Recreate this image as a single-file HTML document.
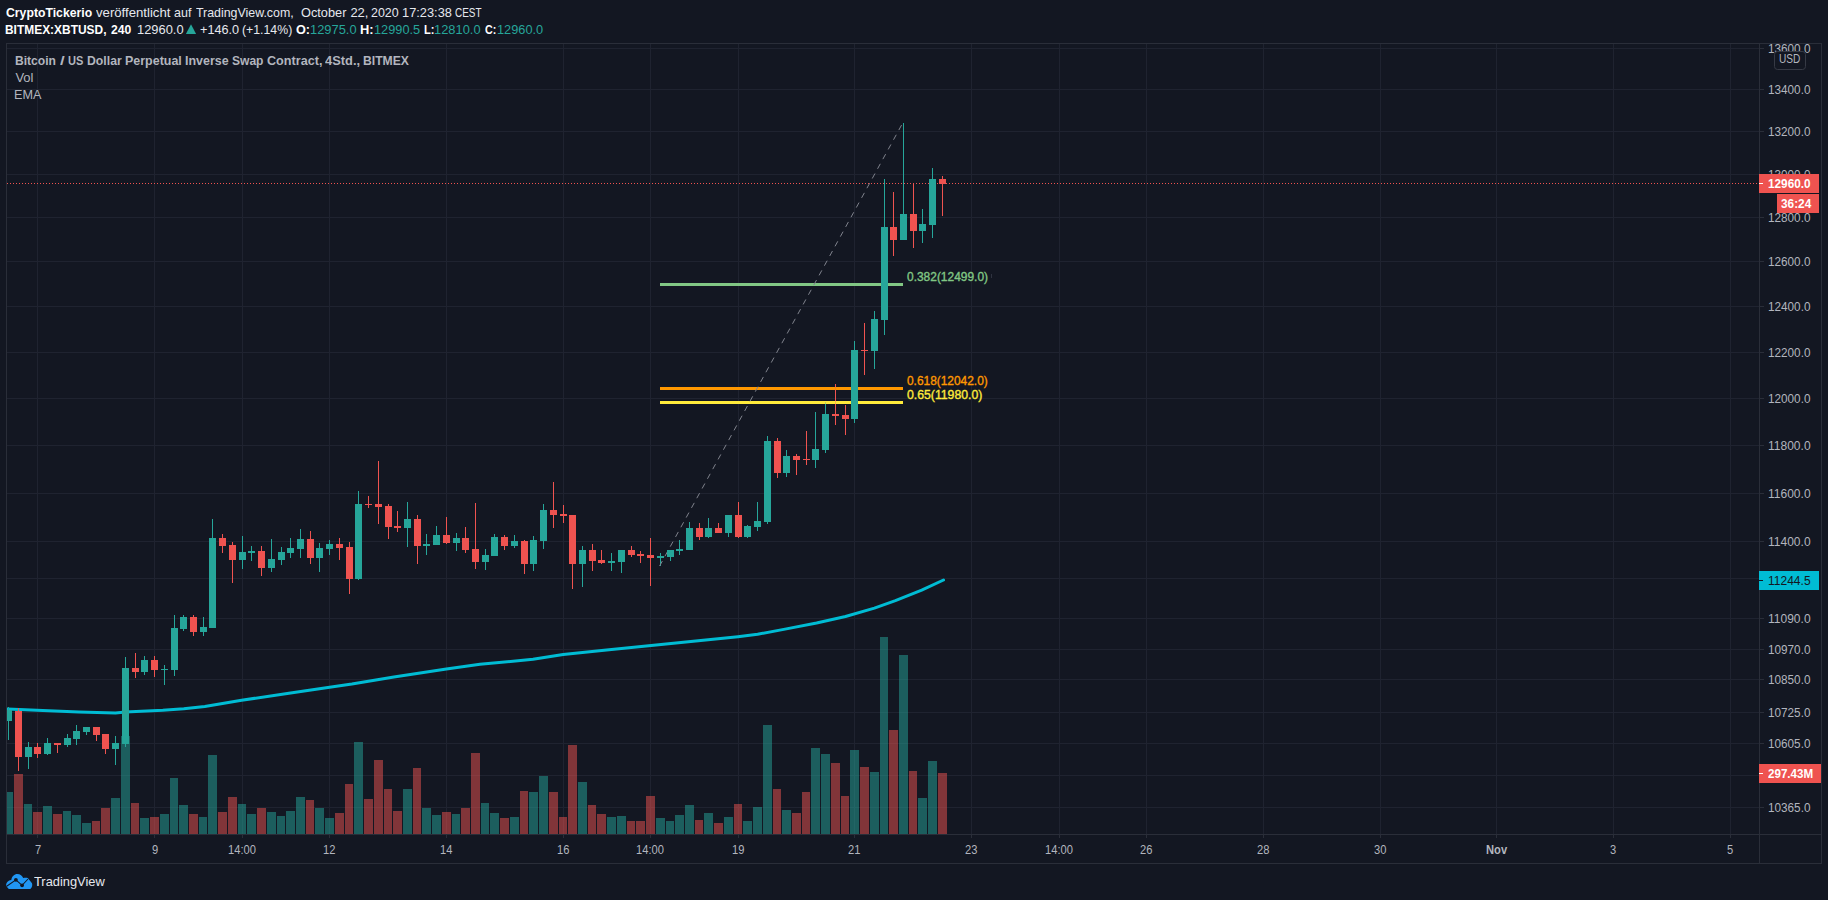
<!DOCTYPE html>
<html lang="de"><head><meta charset="utf-8"><title>BITMEX:XBTUSD</title>
<style>
html,body{margin:0;padding:0;background:#131722;}
body{width:1828px;height:900px;position:relative;overflow:hidden;font-family:"Liberation Sans",sans-serif;}
.t{position:absolute;white-space:pre;line-height:1;transform-origin:0 50%;}
.b{font-weight:bold;}
</style></head><body>
<svg width="1828" height="900" viewBox="0 0 1828 900" style="position:absolute;left:0;top:0">
<rect width="1828" height="900" fill="#131722"/>
<g fill="#1f2330" shape-rendering="crispEdges">
<rect x="7" y="48" width="1752" height="1"/>
<rect x="7" y="89" width="1752" height="1"/>
<rect x="7" y="131" width="1752" height="1"/>
<rect x="7" y="174" width="1752" height="1"/>
<rect x="7" y="217" width="1752" height="1"/>
<rect x="7" y="261" width="1752" height="1"/>
<rect x="7" y="306" width="1752" height="1"/>
<rect x="7" y="352" width="1752" height="1"/>
<rect x="7" y="398" width="1752" height="1"/>
<rect x="7" y="445" width="1752" height="1"/>
<rect x="7" y="493" width="1752" height="1"/>
<rect x="7" y="541" width="1752" height="1"/>
<rect x="7" y="578" width="1752" height="1"/>
<rect x="7" y="618" width="1752" height="1"/>
<rect x="7" y="649" width="1752" height="1"/>
<rect x="7" y="679" width="1752" height="1"/>
<rect x="7" y="712" width="1752" height="1"/>
<rect x="7" y="743" width="1752" height="1"/>
<rect x="7" y="775" width="1752" height="1"/>
<rect x="7" y="807" width="1752" height="1"/>
<rect x="37" y="44" width="1" height="790"/>
<rect x="154" y="44" width="1" height="790"/>
<rect x="242" y="44" width="1" height="790"/>
<rect x="329" y="44" width="1" height="790"/>
<rect x="446" y="44" width="1" height="790"/>
<rect x="563" y="44" width="1" height="790"/>
<rect x="650" y="44" width="1" height="790"/>
<rect x="738" y="44" width="1" height="790"/>
<rect x="854" y="44" width="1" height="790"/>
<rect x="971" y="44" width="1" height="790"/>
<rect x="1059" y="44" width="1" height="790"/>
<rect x="1146" y="44" width="1" height="790"/>
<rect x="1263" y="44" width="1" height="790"/>
<rect x="1380" y="44" width="1" height="790"/>
<rect x="1496" y="44" width="1" height="790"/>
<rect x="1613" y="44" width="1" height="790"/>
<rect x="1730" y="44" width="1" height="790"/>
</g>
<defs><clipPath id="pane"><rect x="7" y="44" width="1752" height="790"/></clipPath></defs>
<g clip-path="url(#pane)">
<g shape-rendering="crispEdges">
<rect x="4" y="792" width="9" height="42" fill="#26a69a" fill-opacity="0.5"/>
<rect x="14" y="774" width="9" height="60" fill="#ef5350" fill-opacity="0.5"/>
<rect x="24" y="804" width="8" height="30" fill="#26a69a" fill-opacity="0.5"/>
<rect x="33" y="812" width="9" height="22" fill="#ef5350" fill-opacity="0.5"/>
<rect x="43" y="806" width="9" height="28" fill="#26a69a" fill-opacity="0.5"/>
<rect x="53" y="814" width="9" height="20" fill="#ef5350" fill-opacity="0.5"/>
<rect x="63" y="811" width="8" height="23" fill="#26a69a" fill-opacity="0.5"/>
<rect x="72" y="815" width="9" height="19" fill="#26a69a" fill-opacity="0.5"/>
<rect x="82" y="823" width="9" height="11" fill="#26a69a" fill-opacity="0.5"/>
<rect x="92" y="821" width="8" height="13" fill="#ef5350" fill-opacity="0.5"/>
<rect x="101" y="808" width="9" height="26" fill="#ef5350" fill-opacity="0.5"/>
<rect x="111" y="798" width="9" height="36" fill="#26a69a" fill-opacity="0.5"/>
<rect x="121" y="736" width="9" height="98" fill="#26a69a" fill-opacity="0.5"/>
<rect x="131" y="803" width="8" height="31" fill="#ef5350" fill-opacity="0.5"/>
<rect x="140" y="818" width="9" height="16" fill="#26a69a" fill-opacity="0.5"/>
<rect x="150" y="817" width="9" height="17" fill="#ef5350" fill-opacity="0.5"/>
<rect x="160" y="814" width="9" height="20" fill="#26a69a" fill-opacity="0.5"/>
<rect x="170" y="778" width="8" height="56" fill="#26a69a" fill-opacity="0.5"/>
<rect x="179" y="805" width="9" height="29" fill="#26a69a" fill-opacity="0.5"/>
<rect x="189" y="814" width="9" height="20" fill="#ef5350" fill-opacity="0.5"/>
<rect x="199" y="817" width="8" height="17" fill="#26a69a" fill-opacity="0.5"/>
<rect x="208" y="755" width="9" height="79" fill="#26a69a" fill-opacity="0.5"/>
<rect x="218" y="812" width="9" height="22" fill="#ef5350" fill-opacity="0.5"/>
<rect x="228" y="797" width="9" height="37" fill="#ef5350" fill-opacity="0.5"/>
<rect x="238" y="804" width="8" height="30" fill="#26a69a" fill-opacity="0.5"/>
<rect x="247" y="814" width="9" height="20" fill="#26a69a" fill-opacity="0.5"/>
<rect x="257" y="808" width="9" height="26" fill="#ef5350" fill-opacity="0.5"/>
<rect x="267" y="812" width="9" height="22" fill="#26a69a" fill-opacity="0.5"/>
<rect x="277" y="816" width="8" height="18" fill="#26a69a" fill-opacity="0.5"/>
<rect x="286" y="811" width="9" height="23" fill="#26a69a" fill-opacity="0.5"/>
<rect x="296" y="797" width="9" height="37" fill="#26a69a" fill-opacity="0.5"/>
<rect x="306" y="800" width="8" height="34" fill="#ef5350" fill-opacity="0.5"/>
<rect x="315" y="808" width="9" height="26" fill="#26a69a" fill-opacity="0.5"/>
<rect x="325" y="818" width="9" height="16" fill="#26a69a" fill-opacity="0.5"/>
<rect x="335" y="813" width="9" height="21" fill="#ef5350" fill-opacity="0.5"/>
<rect x="345" y="784" width="8" height="50" fill="#ef5350" fill-opacity="0.5"/>
<rect x="354" y="742" width="9" height="92" fill="#26a69a" fill-opacity="0.5"/>
<rect x="364" y="799" width="9" height="35" fill="#ef5350" fill-opacity="0.5"/>
<rect x="374" y="760" width="9" height="74" fill="#ef5350" fill-opacity="0.5"/>
<rect x="384" y="789" width="8" height="45" fill="#ef5350" fill-opacity="0.5"/>
<rect x="393" y="811" width="9" height="23" fill="#ef5350" fill-opacity="0.5"/>
<rect x="403" y="789" width="9" height="45" fill="#26a69a" fill-opacity="0.5"/>
<rect x="413" y="768" width="8" height="66" fill="#ef5350" fill-opacity="0.5"/>
<rect x="422" y="808" width="9" height="26" fill="#26a69a" fill-opacity="0.5"/>
<rect x="432" y="815" width="9" height="19" fill="#26a69a" fill-opacity="0.5"/>
<rect x="442" y="812" width="9" height="22" fill="#ef5350" fill-opacity="0.5"/>
<rect x="452" y="814" width="8" height="20" fill="#26a69a" fill-opacity="0.5"/>
<rect x="461" y="808" width="9" height="26" fill="#ef5350" fill-opacity="0.5"/>
<rect x="471" y="753" width="9" height="81" fill="#ef5350" fill-opacity="0.5"/>
<rect x="481" y="803" width="8" height="31" fill="#26a69a" fill-opacity="0.5"/>
<rect x="490" y="813" width="9" height="21" fill="#26a69a" fill-opacity="0.5"/>
<rect x="500" y="818" width="9" height="16" fill="#ef5350" fill-opacity="0.5"/>
<rect x="510" y="817" width="9" height="17" fill="#26a69a" fill-opacity="0.5"/>
<rect x="520" y="791" width="8" height="43" fill="#ef5350" fill-opacity="0.5"/>
<rect x="529" y="792" width="9" height="42" fill="#26a69a" fill-opacity="0.5"/>
<rect x="539" y="776" width="9" height="58" fill="#26a69a" fill-opacity="0.5"/>
<rect x="549" y="792" width="9" height="42" fill="#ef5350" fill-opacity="0.5"/>
<rect x="559" y="817" width="8" height="17" fill="#ef5350" fill-opacity="0.5"/>
<rect x="568" y="745" width="9" height="89" fill="#ef5350" fill-opacity="0.5"/>
<rect x="578" y="782" width="9" height="52" fill="#26a69a" fill-opacity="0.5"/>
<rect x="588" y="805" width="8" height="29" fill="#ef5350" fill-opacity="0.5"/>
<rect x="597" y="814" width="9" height="20" fill="#ef5350" fill-opacity="0.5"/>
<rect x="607" y="817" width="9" height="17" fill="#26a69a" fill-opacity="0.5"/>
<rect x="617" y="816" width="9" height="18" fill="#26a69a" fill-opacity="0.5"/>
<rect x="627" y="821" width="8" height="13" fill="#ef5350" fill-opacity="0.5"/>
<rect x="636" y="821" width="9" height="13" fill="#ef5350" fill-opacity="0.5"/>
<rect x="646" y="796" width="9" height="38" fill="#ef5350" fill-opacity="0.5"/>
<rect x="656" y="818" width="9" height="16" fill="#26a69a" fill-opacity="0.5"/>
<rect x="666" y="821" width="8" height="13" fill="#26a69a" fill-opacity="0.5"/>
<rect x="675" y="815" width="9" height="19" fill="#26a69a" fill-opacity="0.5"/>
<rect x="685" y="805" width="9" height="29" fill="#26a69a" fill-opacity="0.5"/>
<rect x="695" y="820" width="8" height="14" fill="#ef5350" fill-opacity="0.5"/>
<rect x="704" y="813" width="9" height="21" fill="#26a69a" fill-opacity="0.5"/>
<rect x="714" y="823" width="9" height="11" fill="#ef5350" fill-opacity="0.5"/>
<rect x="724" y="817" width="9" height="17" fill="#26a69a" fill-opacity="0.5"/>
<rect x="734" y="804" width="8" height="30" fill="#ef5350" fill-opacity="0.5"/>
<rect x="743" y="821" width="9" height="13" fill="#26a69a" fill-opacity="0.5"/>
<rect x="753" y="807" width="9" height="27" fill="#26a69a" fill-opacity="0.5"/>
<rect x="763" y="725" width="9" height="109" fill="#26a69a" fill-opacity="0.5"/>
<rect x="773" y="789" width="8" height="45" fill="#ef5350" fill-opacity="0.5"/>
<rect x="782" y="810" width="9" height="24" fill="#26a69a" fill-opacity="0.5"/>
<rect x="792" y="813" width="9" height="21" fill="#ef5350" fill-opacity="0.5"/>
<rect x="802" y="792" width="8" height="42" fill="#ef5350" fill-opacity="0.5"/>
<rect x="811" y="748" width="9" height="86" fill="#26a69a" fill-opacity="0.5"/>
<rect x="821" y="754" width="9" height="80" fill="#26a69a" fill-opacity="0.5"/>
<rect x="831" y="763" width="9" height="71" fill="#ef5350" fill-opacity="0.5"/>
<rect x="841" y="796" width="8" height="38" fill="#ef5350" fill-opacity="0.5"/>
<rect x="850" y="750" width="9" height="84" fill="#26a69a" fill-opacity="0.5"/>
<rect x="860" y="767" width="9" height="67" fill="#ef5350" fill-opacity="0.5"/>
<rect x="870" y="772" width="9" height="62" fill="#26a69a" fill-opacity="0.5"/>
<rect x="880" y="637" width="8" height="197" fill="#26a69a" fill-opacity="0.5"/>
<rect x="889" y="730" width="9" height="104" fill="#ef5350" fill-opacity="0.5"/>
<rect x="899" y="655" width="9" height="179" fill="#26a69a" fill-opacity="0.5"/>
<rect x="909" y="771" width="8" height="63" fill="#ef5350" fill-opacity="0.5"/>
<rect x="918" y="798" width="9" height="36" fill="#26a69a" fill-opacity="0.5"/>
<rect x="928" y="761" width="9" height="73" fill="#26a69a" fill-opacity="0.5"/>
<rect x="938" y="773" width="9" height="61" fill="#ef5350" fill-opacity="0.5"/>
</g>
<polyline points="7.4,709.0 36.8,710.3 78.8,711.9 115.5,712.9 125.5,712.1 162.8,710.3 183.8,708.7 204.8,706.4 241.6,700.3 288.9,693.2 329.6,687.2 351.9,684.0 393.9,676.9 446.4,669.1 480.0,664.3 533.0,659.3 563.2,654.5 606.6,650.1 651.2,645.6 695.8,640.9 737.9,636.7 757.6,634.3 785.1,629.1 816.6,623.0 845.5,616.5 874.4,608.1 895.4,600.7 921.7,590.2 943.5,580.0" fill="none" stroke="#00bcd4" stroke-width="3" stroke-linejoin="round" stroke-linecap="round"/>
<g fill="#ef5350" shape-rendering="crispEdges">
<path d="M7 183h1v1h-1zM10 183h1v1h-1zM13 183h1v1h-1zM16 183h1v1h-1zM19 183h1v1h-1zM22 183h1v1h-1zM25 183h1v1h-1zM28 183h1v1h-1zM31 183h1v1h-1zM34 183h1v1h-1zM37 183h1v1h-1zM40 183h1v1h-1zM43 183h1v1h-1zM46 183h1v1h-1zM49 183h1v1h-1zM52 183h1v1h-1zM55 183h1v1h-1zM58 183h1v1h-1zM61 183h1v1h-1zM64 183h1v1h-1zM67 183h1v1h-1zM70 183h1v1h-1zM73 183h1v1h-1zM76 183h1v1h-1zM79 183h1v1h-1zM82 183h1v1h-1zM85 183h1v1h-1zM88 183h1v1h-1zM91 183h1v1h-1zM94 183h1v1h-1zM97 183h1v1h-1zM100 183h1v1h-1zM103 183h1v1h-1zM106 183h1v1h-1zM109 183h1v1h-1zM112 183h1v1h-1zM115 183h1v1h-1zM118 183h1v1h-1zM121 183h1v1h-1zM124 183h1v1h-1zM127 183h1v1h-1zM130 183h1v1h-1zM133 183h1v1h-1zM136 183h1v1h-1zM139 183h1v1h-1zM142 183h1v1h-1zM145 183h1v1h-1zM148 183h1v1h-1zM151 183h1v1h-1zM154 183h1v1h-1zM157 183h1v1h-1zM160 183h1v1h-1zM163 183h1v1h-1zM166 183h1v1h-1zM169 183h1v1h-1zM172 183h1v1h-1zM175 183h1v1h-1zM178 183h1v1h-1zM181 183h1v1h-1zM184 183h1v1h-1zM187 183h1v1h-1zM190 183h1v1h-1zM193 183h1v1h-1zM196 183h1v1h-1zM199 183h1v1h-1zM202 183h1v1h-1zM205 183h1v1h-1zM208 183h1v1h-1zM211 183h1v1h-1zM214 183h1v1h-1zM217 183h1v1h-1zM220 183h1v1h-1zM223 183h1v1h-1zM226 183h1v1h-1zM229 183h1v1h-1zM232 183h1v1h-1zM235 183h1v1h-1zM238 183h1v1h-1zM241 183h1v1h-1zM244 183h1v1h-1zM247 183h1v1h-1zM250 183h1v1h-1zM253 183h1v1h-1zM256 183h1v1h-1zM259 183h1v1h-1zM262 183h1v1h-1zM265 183h1v1h-1zM268 183h1v1h-1zM271 183h1v1h-1zM274 183h1v1h-1zM277 183h1v1h-1zM280 183h1v1h-1zM283 183h1v1h-1zM286 183h1v1h-1zM289 183h1v1h-1zM292 183h1v1h-1zM295 183h1v1h-1zM298 183h1v1h-1zM301 183h1v1h-1zM304 183h1v1h-1zM307 183h1v1h-1zM310 183h1v1h-1zM313 183h1v1h-1zM316 183h1v1h-1zM319 183h1v1h-1zM322 183h1v1h-1zM325 183h1v1h-1zM328 183h1v1h-1zM331 183h1v1h-1zM334 183h1v1h-1zM337 183h1v1h-1zM340 183h1v1h-1zM343 183h1v1h-1zM346 183h1v1h-1zM349 183h1v1h-1zM352 183h1v1h-1zM355 183h1v1h-1zM358 183h1v1h-1zM361 183h1v1h-1zM364 183h1v1h-1zM367 183h1v1h-1zM370 183h1v1h-1zM373 183h1v1h-1zM376 183h1v1h-1zM379 183h1v1h-1zM382 183h1v1h-1zM385 183h1v1h-1zM388 183h1v1h-1zM391 183h1v1h-1zM394 183h1v1h-1zM397 183h1v1h-1zM400 183h1v1h-1zM403 183h1v1h-1zM406 183h1v1h-1zM409 183h1v1h-1zM412 183h1v1h-1zM415 183h1v1h-1zM418 183h1v1h-1zM421 183h1v1h-1zM424 183h1v1h-1zM427 183h1v1h-1zM430 183h1v1h-1zM433 183h1v1h-1zM436 183h1v1h-1zM439 183h1v1h-1zM442 183h1v1h-1zM445 183h1v1h-1zM448 183h1v1h-1zM451 183h1v1h-1zM454 183h1v1h-1zM457 183h1v1h-1zM460 183h1v1h-1zM463 183h1v1h-1zM466 183h1v1h-1zM469 183h1v1h-1zM472 183h1v1h-1zM475 183h1v1h-1zM478 183h1v1h-1zM481 183h1v1h-1zM484 183h1v1h-1zM487 183h1v1h-1zM490 183h1v1h-1zM493 183h1v1h-1zM496 183h1v1h-1zM499 183h1v1h-1zM502 183h1v1h-1zM505 183h1v1h-1zM508 183h1v1h-1zM511 183h1v1h-1zM514 183h1v1h-1zM517 183h1v1h-1zM520 183h1v1h-1zM523 183h1v1h-1zM526 183h1v1h-1zM529 183h1v1h-1zM532 183h1v1h-1zM535 183h1v1h-1zM538 183h1v1h-1zM541 183h1v1h-1zM544 183h1v1h-1zM547 183h1v1h-1zM550 183h1v1h-1zM553 183h1v1h-1zM556 183h1v1h-1zM559 183h1v1h-1zM562 183h1v1h-1zM565 183h1v1h-1zM568 183h1v1h-1zM571 183h1v1h-1zM574 183h1v1h-1zM577 183h1v1h-1zM580 183h1v1h-1zM583 183h1v1h-1zM586 183h1v1h-1zM589 183h1v1h-1zM592 183h1v1h-1zM595 183h1v1h-1zM598 183h1v1h-1zM601 183h1v1h-1zM604 183h1v1h-1zM607 183h1v1h-1zM610 183h1v1h-1zM613 183h1v1h-1zM616 183h1v1h-1zM619 183h1v1h-1zM622 183h1v1h-1zM625 183h1v1h-1zM628 183h1v1h-1zM631 183h1v1h-1zM634 183h1v1h-1zM637 183h1v1h-1zM640 183h1v1h-1zM643 183h1v1h-1zM646 183h1v1h-1zM649 183h1v1h-1zM652 183h1v1h-1zM655 183h1v1h-1zM658 183h1v1h-1zM661 183h1v1h-1zM664 183h1v1h-1zM667 183h1v1h-1zM670 183h1v1h-1zM673 183h1v1h-1zM676 183h1v1h-1zM679 183h1v1h-1zM682 183h1v1h-1zM685 183h1v1h-1zM688 183h1v1h-1zM691 183h1v1h-1zM694 183h1v1h-1zM697 183h1v1h-1zM700 183h1v1h-1zM703 183h1v1h-1zM706 183h1v1h-1zM709 183h1v1h-1zM712 183h1v1h-1zM715 183h1v1h-1zM718 183h1v1h-1zM721 183h1v1h-1zM724 183h1v1h-1zM727 183h1v1h-1zM730 183h1v1h-1zM733 183h1v1h-1zM736 183h1v1h-1zM739 183h1v1h-1zM742 183h1v1h-1zM745 183h1v1h-1zM748 183h1v1h-1zM751 183h1v1h-1zM754 183h1v1h-1zM757 183h1v1h-1zM760 183h1v1h-1zM763 183h1v1h-1zM766 183h1v1h-1zM769 183h1v1h-1zM772 183h1v1h-1zM775 183h1v1h-1zM778 183h1v1h-1zM781 183h1v1h-1zM784 183h1v1h-1zM787 183h1v1h-1zM790 183h1v1h-1zM793 183h1v1h-1zM796 183h1v1h-1zM799 183h1v1h-1zM802 183h1v1h-1zM805 183h1v1h-1zM808 183h1v1h-1zM811 183h1v1h-1zM814 183h1v1h-1zM817 183h1v1h-1zM820 183h1v1h-1zM823 183h1v1h-1zM826 183h1v1h-1zM829 183h1v1h-1zM832 183h1v1h-1zM835 183h1v1h-1zM838 183h1v1h-1zM841 183h1v1h-1zM844 183h1v1h-1zM847 183h1v1h-1zM850 183h1v1h-1zM853 183h1v1h-1zM856 183h1v1h-1zM859 183h1v1h-1zM862 183h1v1h-1zM865 183h1v1h-1zM868 183h1v1h-1zM871 183h1v1h-1zM874 183h1v1h-1zM877 183h1v1h-1zM880 183h1v1h-1zM883 183h1v1h-1zM886 183h1v1h-1zM889 183h1v1h-1zM892 183h1v1h-1zM895 183h1v1h-1zM898 183h1v1h-1zM901 183h1v1h-1zM904 183h1v1h-1zM907 183h1v1h-1zM910 183h1v1h-1zM913 183h1v1h-1zM916 183h1v1h-1zM919 183h1v1h-1zM922 183h1v1h-1zM925 183h1v1h-1zM928 183h1v1h-1zM931 183h1v1h-1zM934 183h1v1h-1zM937 183h1v1h-1zM940 183h1v1h-1zM943 183h1v1h-1zM946 183h1v1h-1zM949 183h1v1h-1zM952 183h1v1h-1zM955 183h1v1h-1zM958 183h1v1h-1zM961 183h1v1h-1zM964 183h1v1h-1zM967 183h1v1h-1zM970 183h1v1h-1zM973 183h1v1h-1zM976 183h1v1h-1zM979 183h1v1h-1zM982 183h1v1h-1zM985 183h1v1h-1zM988 183h1v1h-1zM991 183h1v1h-1zM994 183h1v1h-1zM997 183h1v1h-1zM1000 183h1v1h-1zM1003 183h1v1h-1zM1006 183h1v1h-1zM1009 183h1v1h-1zM1012 183h1v1h-1zM1015 183h1v1h-1zM1018 183h1v1h-1zM1021 183h1v1h-1zM1024 183h1v1h-1zM1027 183h1v1h-1zM1030 183h1v1h-1zM1033 183h1v1h-1zM1036 183h1v1h-1zM1039 183h1v1h-1zM1042 183h1v1h-1zM1045 183h1v1h-1zM1048 183h1v1h-1zM1051 183h1v1h-1zM1054 183h1v1h-1zM1057 183h1v1h-1zM1060 183h1v1h-1zM1063 183h1v1h-1zM1066 183h1v1h-1zM1069 183h1v1h-1zM1072 183h1v1h-1zM1075 183h1v1h-1zM1078 183h1v1h-1zM1081 183h1v1h-1zM1084 183h1v1h-1zM1087 183h1v1h-1zM1090 183h1v1h-1zM1093 183h1v1h-1zM1096 183h1v1h-1zM1099 183h1v1h-1zM1102 183h1v1h-1zM1105 183h1v1h-1zM1108 183h1v1h-1zM1111 183h1v1h-1zM1114 183h1v1h-1zM1117 183h1v1h-1zM1120 183h1v1h-1zM1123 183h1v1h-1zM1126 183h1v1h-1zM1129 183h1v1h-1zM1132 183h1v1h-1zM1135 183h1v1h-1zM1138 183h1v1h-1zM1141 183h1v1h-1zM1144 183h1v1h-1zM1147 183h1v1h-1zM1150 183h1v1h-1zM1153 183h1v1h-1zM1156 183h1v1h-1zM1159 183h1v1h-1zM1162 183h1v1h-1zM1165 183h1v1h-1zM1168 183h1v1h-1zM1171 183h1v1h-1zM1174 183h1v1h-1zM1177 183h1v1h-1zM1180 183h1v1h-1zM1183 183h1v1h-1zM1186 183h1v1h-1zM1189 183h1v1h-1zM1192 183h1v1h-1zM1195 183h1v1h-1zM1198 183h1v1h-1zM1201 183h1v1h-1zM1204 183h1v1h-1zM1207 183h1v1h-1zM1210 183h1v1h-1zM1213 183h1v1h-1zM1216 183h1v1h-1zM1219 183h1v1h-1zM1222 183h1v1h-1zM1225 183h1v1h-1zM1228 183h1v1h-1zM1231 183h1v1h-1zM1234 183h1v1h-1zM1237 183h1v1h-1zM1240 183h1v1h-1zM1243 183h1v1h-1zM1246 183h1v1h-1zM1249 183h1v1h-1zM1252 183h1v1h-1zM1255 183h1v1h-1zM1258 183h1v1h-1zM1261 183h1v1h-1zM1264 183h1v1h-1zM1267 183h1v1h-1zM1270 183h1v1h-1zM1273 183h1v1h-1zM1276 183h1v1h-1zM1279 183h1v1h-1zM1282 183h1v1h-1zM1285 183h1v1h-1zM1288 183h1v1h-1zM1291 183h1v1h-1zM1294 183h1v1h-1zM1297 183h1v1h-1zM1300 183h1v1h-1zM1303 183h1v1h-1zM1306 183h1v1h-1zM1309 183h1v1h-1zM1312 183h1v1h-1zM1315 183h1v1h-1zM1318 183h1v1h-1zM1321 183h1v1h-1zM1324 183h1v1h-1zM1327 183h1v1h-1zM1330 183h1v1h-1zM1333 183h1v1h-1zM1336 183h1v1h-1zM1339 183h1v1h-1zM1342 183h1v1h-1zM1345 183h1v1h-1zM1348 183h1v1h-1zM1351 183h1v1h-1zM1354 183h1v1h-1zM1357 183h1v1h-1zM1360 183h1v1h-1zM1363 183h1v1h-1zM1366 183h1v1h-1zM1369 183h1v1h-1zM1372 183h1v1h-1zM1375 183h1v1h-1zM1378 183h1v1h-1zM1381 183h1v1h-1zM1384 183h1v1h-1zM1387 183h1v1h-1zM1390 183h1v1h-1zM1393 183h1v1h-1zM1396 183h1v1h-1zM1399 183h1v1h-1zM1402 183h1v1h-1zM1405 183h1v1h-1zM1408 183h1v1h-1zM1411 183h1v1h-1zM1414 183h1v1h-1zM1417 183h1v1h-1zM1420 183h1v1h-1zM1423 183h1v1h-1zM1426 183h1v1h-1zM1429 183h1v1h-1zM1432 183h1v1h-1zM1435 183h1v1h-1zM1438 183h1v1h-1zM1441 183h1v1h-1zM1444 183h1v1h-1zM1447 183h1v1h-1zM1450 183h1v1h-1zM1453 183h1v1h-1zM1456 183h1v1h-1zM1459 183h1v1h-1zM1462 183h1v1h-1zM1465 183h1v1h-1zM1468 183h1v1h-1zM1471 183h1v1h-1zM1474 183h1v1h-1zM1477 183h1v1h-1zM1480 183h1v1h-1zM1483 183h1v1h-1zM1486 183h1v1h-1zM1489 183h1v1h-1zM1492 183h1v1h-1zM1495 183h1v1h-1zM1498 183h1v1h-1zM1501 183h1v1h-1zM1504 183h1v1h-1zM1507 183h1v1h-1zM1510 183h1v1h-1zM1513 183h1v1h-1zM1516 183h1v1h-1zM1519 183h1v1h-1zM1522 183h1v1h-1zM1525 183h1v1h-1zM1528 183h1v1h-1zM1531 183h1v1h-1zM1534 183h1v1h-1zM1537 183h1v1h-1zM1540 183h1v1h-1zM1543 183h1v1h-1zM1546 183h1v1h-1zM1549 183h1v1h-1zM1552 183h1v1h-1zM1555 183h1v1h-1zM1558 183h1v1h-1zM1561 183h1v1h-1zM1564 183h1v1h-1zM1567 183h1v1h-1zM1570 183h1v1h-1zM1573 183h1v1h-1zM1576 183h1v1h-1zM1579 183h1v1h-1zM1582 183h1v1h-1zM1585 183h1v1h-1zM1588 183h1v1h-1zM1591 183h1v1h-1zM1594 183h1v1h-1zM1597 183h1v1h-1zM1600 183h1v1h-1zM1603 183h1v1h-1zM1606 183h1v1h-1zM1609 183h1v1h-1zM1612 183h1v1h-1zM1615 183h1v1h-1zM1618 183h1v1h-1zM1621 183h1v1h-1zM1624 183h1v1h-1zM1627 183h1v1h-1zM1630 183h1v1h-1zM1633 183h1v1h-1zM1636 183h1v1h-1zM1639 183h1v1h-1zM1642 183h1v1h-1zM1645 183h1v1h-1zM1648 183h1v1h-1zM1651 183h1v1h-1zM1654 183h1v1h-1zM1657 183h1v1h-1zM1660 183h1v1h-1zM1663 183h1v1h-1zM1666 183h1v1h-1zM1669 183h1v1h-1zM1672 183h1v1h-1zM1675 183h1v1h-1zM1678 183h1v1h-1zM1681 183h1v1h-1zM1684 183h1v1h-1zM1687 183h1v1h-1zM1690 183h1v1h-1zM1693 183h1v1h-1zM1696 183h1v1h-1zM1699 183h1v1h-1zM1702 183h1v1h-1zM1705 183h1v1h-1zM1708 183h1v1h-1zM1711 183h1v1h-1zM1714 183h1v1h-1zM1717 183h1v1h-1zM1720 183h1v1h-1zM1723 183h1v1h-1zM1726 183h1v1h-1zM1729 183h1v1h-1zM1732 183h1v1h-1zM1735 183h1v1h-1zM1738 183h1v1h-1zM1741 183h1v1h-1zM1744 183h1v1h-1zM1747 183h1v1h-1zM1750 183h1v1h-1zM1753 183h1v1h-1zM1756 183h1v1h-1z"/>
</g>
<g shape-rendering="crispEdges">
<rect x="8" y="707" width="1" height="33" fill="#26a69a"/><rect x="18" y="708" width="1" height="63" fill="#ef5350"/><rect x="28" y="742" width="1" height="27" fill="#26a69a"/><rect x="37" y="743" width="1" height="15" fill="#ef5350"/><rect x="47" y="738" width="1" height="17" fill="#26a69a"/><rect x="57" y="743" width="1" height="10" fill="#ef5350"/><rect x="67" y="734" width="1" height="13" fill="#26a69a"/><rect x="76" y="725" width="1" height="20" fill="#26a69a"/><rect x="86" y="727" width="1" height="8" fill="#26a69a"/><rect x="96" y="727" width="1" height="14" fill="#ef5350"/><rect x="105" y="734" width="1" height="20" fill="#ef5350"/><rect x="115" y="736" width="1" height="29" fill="#26a69a"/><rect x="125" y="657" width="1" height="90" fill="#26a69a"/><rect x="135" y="653" width="1" height="25" fill="#ef5350"/><rect x="144" y="656" width="1" height="19" fill="#26a69a"/><rect x="154" y="656" width="1" height="21" fill="#ef5350"/><rect x="164" y="665" width="1" height="20" fill="#26a69a"/><rect x="174" y="615" width="1" height="61" fill="#26a69a"/><rect x="183" y="615" width="1" height="16" fill="#26a69a"/><rect x="193" y="615" width="1" height="21" fill="#ef5350"/><rect x="203" y="617" width="1" height="19" fill="#26a69a"/><rect x="212" y="519" width="1" height="109" fill="#26a69a"/><rect x="222" y="534" width="1" height="19" fill="#ef5350"/><rect x="232" y="542" width="1" height="41" fill="#ef5350"/><rect x="242" y="536" width="1" height="33" fill="#26a69a"/><rect x="251" y="546" width="1" height="15" fill="#26a69a"/><rect x="261" y="546" width="1" height="30" fill="#ef5350"/><rect x="271" y="539" width="1" height="33" fill="#26a69a"/><rect x="281" y="547" width="1" height="18" fill="#26a69a"/><rect x="290" y="538" width="1" height="20" fill="#26a69a"/><rect x="300" y="529" width="1" height="29" fill="#26a69a"/><rect x="310" y="531" width="1" height="33" fill="#ef5350"/><rect x="319" y="543" width="1" height="29" fill="#26a69a"/><rect x="329" y="540" width="1" height="15" fill="#26a69a"/><rect x="339" y="538" width="1" height="22" fill="#ef5350"/><rect x="349" y="542" width="1" height="52" fill="#ef5350"/><rect x="358" y="491" width="1" height="89" fill="#26a69a"/><rect x="368" y="496" width="1" height="12" fill="#ef5350"/><rect x="378" y="461" width="1" height="63" fill="#ef5350"/><rect x="388" y="504" width="1" height="35" fill="#ef5350"/><rect x="397" y="511" width="1" height="21" fill="#ef5350"/><rect x="407" y="502" width="1" height="45" fill="#26a69a"/><rect x="417" y="515" width="1" height="49" fill="#ef5350"/><rect x="426" y="534" width="1" height="21" fill="#26a69a"/><rect x="436" y="526" width="1" height="19" fill="#26a69a"/><rect x="446" y="517" width="1" height="27" fill="#ef5350"/><rect x="456" y="533" width="1" height="18" fill="#26a69a"/><rect x="465" y="527" width="1" height="26" fill="#ef5350"/><rect x="475" y="503" width="1" height="66" fill="#ef5350"/><rect x="485" y="549" width="1" height="21" fill="#26a69a"/><rect x="494" y="534" width="1" height="22" fill="#26a69a"/><rect x="504" y="535" width="1" height="15" fill="#ef5350"/><rect x="514" y="535" width="1" height="13" fill="#26a69a"/><rect x="524" y="540" width="1" height="34" fill="#ef5350"/><rect x="533" y="536" width="1" height="35" fill="#26a69a"/><rect x="543" y="504" width="1" height="45" fill="#26a69a"/><rect x="553" y="482" width="1" height="46" fill="#ef5350"/><rect x="563" y="505" width="1" height="18" fill="#ef5350"/><rect x="572" y="515" width="1" height="74" fill="#ef5350"/><rect x="582" y="546" width="1" height="41" fill="#26a69a"/><rect x="592" y="544" width="1" height="27" fill="#ef5350"/><rect x="601" y="550" width="1" height="14" fill="#ef5350"/><rect x="611" y="553" width="1" height="18" fill="#26a69a"/><rect x="621" y="550" width="1" height="23" fill="#26a69a"/><rect x="631" y="546" width="1" height="11" fill="#ef5350"/><rect x="640" y="551" width="1" height="12" fill="#ef5350"/><rect x="650" y="538" width="1" height="48" fill="#ef5350"/><rect x="660" y="553" width="1" height="13" fill="#26a69a"/><rect x="670" y="550" width="1" height="11" fill="#26a69a"/><rect x="679" y="540" width="1" height="15" fill="#26a69a"/><rect x="689" y="522" width="1" height="28" fill="#26a69a"/><rect x="699" y="523" width="1" height="17" fill="#ef5350"/><rect x="708" y="518" width="1" height="20" fill="#26a69a"/><rect x="718" y="523" width="1" height="10" fill="#ef5350"/><rect x="728" y="515" width="1" height="22" fill="#26a69a"/><rect x="738" y="502" width="1" height="36" fill="#ef5350"/><rect x="747" y="525" width="1" height="13" fill="#26a69a"/><rect x="757" y="502" width="1" height="29" fill="#26a69a"/><rect x="767" y="436" width="1" height="88" fill="#26a69a"/><rect x="777" y="438" width="1" height="40" fill="#ef5350"/><rect x="786" y="450" width="1" height="27" fill="#26a69a"/><rect x="796" y="454" width="1" height="21" fill="#ef5350"/><rect x="806" y="431" width="1" height="34" fill="#ef5350"/><rect x="815" y="412" width="1" height="56" fill="#26a69a"/><rect x="825" y="402" width="1" height="51" fill="#26a69a"/><rect x="835" y="384" width="1" height="41" fill="#ef5350"/><rect x="845" y="405" width="1" height="30" fill="#ef5350"/><rect x="854" y="341" width="1" height="82" fill="#26a69a"/><rect x="864" y="323" width="1" height="52" fill="#ef5350"/><rect x="874" y="311" width="1" height="58" fill="#26a69a"/><rect x="884" y="179" width="1" height="156" fill="#26a69a"/><rect x="893" y="192" width="1" height="64" fill="#ef5350"/><rect x="903" y="123" width="1" height="117" fill="#26a69a"/><rect x="913" y="183" width="1" height="65" fill="#ef5350"/><rect x="922" y="209" width="1" height="34" fill="#26a69a"/><rect x="932" y="168" width="1" height="70" fill="#26a69a"/><rect x="942" y="176" width="1" height="40" fill="#ef5350"/>
</g>
<g shape-rendering="crispEdges">
<rect x="660" y="283" width="243" height="3" fill="#81c784"/>
<rect x="660" y="387" width="243" height="3" fill="#ff9800"/>
<rect x="660" y="401" width="243" height="3" fill="#ffeb3b"/>
</g>
<g shape-rendering="crispEdges" opacity="0.3"><rect x="815" y="412" width="1" height="56" fill="#26a69a"/><rect x="825" y="402" width="1" height="51" fill="#26a69a"/><rect x="835" y="384" width="1" height="41" fill="#ef5350"/><rect x="845" y="405" width="1" height="30" fill="#ef5350"/><rect x="854" y="341" width="1" height="82" fill="#26a69a"/><rect x="864" y="323" width="1" height="52" fill="#ef5350"/><rect x="874" y="311" width="1" height="58" fill="#26a69a"/></g>
<rect x="991" y="274" width="1" height="4" fill="#2f3340" shape-rendering="crispEdges"/>
<line x1="659.6" y1="566" x2="902.7" y2="123" stroke="#80838d" stroke-width="1" stroke-dasharray="5.7 5.35"/>
<g shape-rendering="crispEdges">
<rect x="5" y="710" width="7" height="11" fill="#26a69a"/><rect x="15" y="711" width="7" height="46" fill="#ef5350"/><rect x="25" y="747" width="7" height="10" fill="#26a69a"/><rect x="34" y="747" width="7" height="7" fill="#ef5350"/><rect x="44" y="743" width="7" height="11" fill="#26a69a"/><rect x="54" y="743" width="7" height="2" fill="#ef5350"/><rect x="64" y="738" width="7" height="7" fill="#26a69a"/><rect x="73" y="731" width="7" height="8" fill="#26a69a"/><rect x="83" y="727" width="7" height="5" fill="#26a69a"/><rect x="93" y="727" width="7" height="8" fill="#ef5350"/><rect x="102" y="734" width="7" height="15" fill="#ef5350"/><rect x="112" y="743" width="7" height="6" fill="#26a69a"/><rect x="122" y="668" width="7" height="76" fill="#26a69a"/><rect x="132" y="668" width="7" height="4" fill="#ef5350"/><rect x="141" y="660" width="7" height="12" fill="#26a69a"/><rect x="151" y="660" width="7" height="10" fill="#ef5350"/><rect x="161" y="669" width="7" height="1" fill="#26a69a"/><rect x="171" y="628" width="7" height="42" fill="#26a69a"/><rect x="180" y="617" width="7" height="12" fill="#26a69a"/><rect x="190" y="617" width="7" height="15" fill="#ef5350"/><rect x="200" y="627" width="7" height="5" fill="#26a69a"/><rect x="209" y="538" width="7" height="90" fill="#26a69a"/><rect x="219" y="538" width="7" height="8" fill="#ef5350"/><rect x="229" y="545" width="7" height="15" fill="#ef5350"/><rect x="239" y="552" width="7" height="8" fill="#26a69a"/><rect x="248" y="551" width="7" height="2" fill="#26a69a"/><rect x="258" y="551" width="7" height="17" fill="#ef5350"/><rect x="268" y="559" width="7" height="9" fill="#26a69a"/><rect x="278" y="552" width="7" height="8" fill="#26a69a"/><rect x="287" y="548" width="7" height="5" fill="#26a69a"/><rect x="297" y="539" width="7" height="10" fill="#26a69a"/><rect x="307" y="539" width="7" height="19" fill="#ef5350"/><rect x="316" y="548" width="7" height="10" fill="#26a69a"/><rect x="326" y="544" width="7" height="5" fill="#26a69a"/><rect x="336" y="544" width="7" height="4" fill="#ef5350"/><rect x="346" y="547" width="7" height="32" fill="#ef5350"/><rect x="355" y="504" width="7" height="75" fill="#26a69a"/><rect x="365" y="504" width="7" height="1" fill="#ef5350"/><rect x="375" y="504" width="7" height="3" fill="#ef5350"/><rect x="385" y="506" width="7" height="21" fill="#ef5350"/><rect x="394" y="526" width="7" height="2" fill="#ef5350"/><rect x="404" y="519" width="7" height="9" fill="#26a69a"/><rect x="414" y="519" width="7" height="27" fill="#ef5350"/><rect x="423" y="544" width="7" height="2" fill="#26a69a"/><rect x="433" y="535" width="7" height="10" fill="#26a69a"/><rect x="443" y="535" width="7" height="8" fill="#ef5350"/><rect x="453" y="538" width="7" height="5" fill="#26a69a"/><rect x="462" y="538" width="7" height="12" fill="#ef5350"/><rect x="472" y="549" width="7" height="13" fill="#ef5350"/><rect x="482" y="555" width="7" height="7" fill="#26a69a"/><rect x="491" y="537" width="7" height="19" fill="#26a69a"/><rect x="501" y="537" width="7" height="9" fill="#ef5350"/><rect x="511" y="541" width="7" height="5" fill="#26a69a"/><rect x="521" y="541" width="7" height="23" fill="#ef5350"/><rect x="530" y="540" width="7" height="24" fill="#26a69a"/><rect x="540" y="510" width="7" height="31" fill="#26a69a"/><rect x="550" y="510" width="7" height="5" fill="#ef5350"/><rect x="560" y="514" width="7" height="2" fill="#ef5350"/><rect x="569" y="515" width="7" height="49" fill="#ef5350"/><rect x="579" y="550" width="7" height="14" fill="#26a69a"/><rect x="589" y="550" width="7" height="11" fill="#ef5350"/><rect x="598" y="560" width="7" height="3" fill="#ef5350"/><rect x="608" y="561" width="7" height="2" fill="#26a69a"/><rect x="618" y="550" width="7" height="12" fill="#26a69a"/><rect x="628" y="550" width="7" height="5" fill="#ef5350"/><rect x="637" y="554" width="7" height="2" fill="#ef5350"/><rect x="647" y="555" width="7" height="3" fill="#ef5350"/><rect x="657" y="556" width="7" height="2" fill="#26a69a"/><rect x="667" y="550" width="7" height="7" fill="#26a69a"/><rect x="676" y="549" width="7" height="2" fill="#26a69a"/><rect x="686" y="528" width="7" height="22" fill="#26a69a"/><rect x="696" y="528" width="7" height="9" fill="#ef5350"/><rect x="705" y="528" width="7" height="9" fill="#26a69a"/><rect x="715" y="528" width="7" height="5" fill="#ef5350"/><rect x="725" y="515" width="7" height="18" fill="#26a69a"/><rect x="735" y="515" width="7" height="22" fill="#ef5350"/><rect x="744" y="526" width="7" height="11" fill="#26a69a"/><rect x="754" y="521" width="7" height="6" fill="#26a69a"/><rect x="764" y="441" width="7" height="81" fill="#26a69a"/><rect x="774" y="441" width="7" height="32" fill="#ef5350"/><rect x="783" y="456" width="7" height="17" fill="#26a69a"/><rect x="793" y="456" width="7" height="4" fill="#ef5350"/><rect x="803" y="459" width="7" height="1" fill="#ef5350"/><rect x="812" y="449" width="7" height="11" fill="#26a69a"/><rect x="822" y="414" width="7" height="36" fill="#26a69a"/><rect x="832" y="414" width="7" height="2" fill="#ef5350"/><rect x="842" y="415" width="7" height="4" fill="#ef5350"/><rect x="851" y="350" width="7" height="69" fill="#26a69a"/><rect x="861" y="350" width="7" height="1" fill="#ef5350"/><rect x="871" y="319" width="7" height="32" fill="#26a69a"/><rect x="881" y="227" width="7" height="93" fill="#26a69a"/><rect x="890" y="227" width="7" height="13" fill="#ef5350"/><rect x="900" y="214" width="7" height="26" fill="#26a69a"/><rect x="910" y="214" width="7" height="17" fill="#ef5350"/><rect x="919" y="224" width="7" height="7" fill="#26a69a"/><rect x="929" y="179" width="7" height="46" fill="#26a69a"/><rect x="939" y="179" width="7" height="5" fill="#ef5350"/>
</g>
</g>
<g fill="#2a2e39" shape-rendering="crispEdges">
<rect x="6" y="43" width="1816" height="1"/>
<rect x="6" y="863" width="1816" height="1"/>
<rect x="6" y="43" width="1" height="821"/>
<rect x="1821" y="43" width="1" height="821"/>
<rect x="1759" y="43" width="1" height="821"/>
<rect x="6" y="834" width="1816" height="1"/>
<rect x="1760" y="48" width="4" height="1"/>
<rect x="1760" y="89" width="4" height="1"/>
<rect x="1760" y="131" width="4" height="1"/>
<rect x="1760" y="174" width="4" height="1"/>
<rect x="1760" y="217" width="4" height="1"/>
<rect x="1760" y="261" width="4" height="1"/>
<rect x="1760" y="306" width="4" height="1"/>
<rect x="1760" y="352" width="4" height="1"/>
<rect x="1760" y="398" width="4" height="1"/>
<rect x="1760" y="445" width="4" height="1"/>
<rect x="1760" y="493" width="4" height="1"/>
<rect x="1760" y="541" width="4" height="1"/>
<rect x="1760" y="618" width="4" height="1"/>
<rect x="1760" y="649" width="4" height="1"/>
<rect x="1760" y="679" width="4" height="1"/>
<rect x="1760" y="712" width="4" height="1"/>
<rect x="1760" y="743" width="4" height="1"/>
<rect x="1760" y="807" width="4" height="1"/>
<rect x="37" y="835" width="1" height="3"/>
<rect x="154" y="835" width="1" height="3"/>
<rect x="242" y="835" width="1" height="3"/>
<rect x="329" y="835" width="1" height="3"/>
<rect x="446" y="835" width="1" height="3"/>
<rect x="563" y="835" width="1" height="3"/>
<rect x="650" y="835" width="1" height="3"/>
<rect x="738" y="835" width="1" height="3"/>
<rect x="854" y="835" width="1" height="3"/>
<rect x="971" y="835" width="1" height="3"/>
<rect x="1059" y="835" width="1" height="3"/>
<rect x="1146" y="835" width="1" height="3"/>
<rect x="1263" y="835" width="1" height="3"/>
<rect x="1380" y="835" width="1" height="3"/>
<rect x="1496" y="835" width="1" height="3"/>
<rect x="1613" y="835" width="1" height="3"/>
<rect x="1730" y="835" width="1" height="3"/>
</g>
<path d="M185.9 34L191 24.3L196.1 34Z" fill="#26a69a"/>
<g transform="translate(6,874)">
<path d="M2.8 15L0.3 12.2C-0.4 9.5 1.5 6.3 5.3 5.9C5.8 2.5 8.3 0 11.3 0C14.3 0 16.3 1.8 17.2 4C18.5 3.7 20.5 3.6 21.8 4L26 9.3C26.6 11 26.2 13.5 24.3 15Z" fill="#2196f3"/>
<path d="M0.3 12.5L9.9 5.8L16.1 11.3L22 5" fill="none" stroke="#131722" stroke-width="1.05"/>
<circle cx="9.9" cy="5.8" r="1.9" fill="#131722"/><circle cx="16.1" cy="11.3" r="1.9" fill="#131722"/>
</g>
</svg>
<span class="t b" id="h1a" style="left:5.75px;top:5.8px;font-size:13px;color:#ffffff;transform:scaleX(0.9412);">CryptoTickerio</span>
<span class="t" id="h1b0" style="left:95.70px;top:5.8px;font-size:13px;color:#e6e8ee;transform:scaleX(1.0132);">veröffentlicht</span>
<span class="t" id="h1b1" style="left:174.20px;top:5.8px;font-size:13px;color:#e6e8ee;transform:scaleX(0.9604);">auf</span>
<span class="t" id="h1b2" style="left:196.25px;top:5.8px;font-size:13px;color:#e6e8ee;transform:scaleX(0.9519);">TradingView.com,</span>
<span class="t" id="h1b3" style="left:300.94px;top:5.8px;font-size:13px;color:#e6e8ee;transform:scaleX(0.9818);">October</span>
<span class="t" id="h1b4" style="left:350.40px;top:5.8px;font-size:13px;color:#e6e8ee;">22,</span>
<span class="t" id="h1b5" style="left:370.92px;top:5.8px;font-size:13px;color:#e6e8ee;transform:scaleX(0.9559);">2020</span>
<span class="t" id="h1b6" style="left:401.91px;top:5.8px;font-size:13px;color:#e6e8ee;transform:scaleX(0.9857);">17:23:38</span>
<span class="t" id="h1b7" style="left:454.90px;top:5.8px;font-size:13px;color:#e6e8ee;transform:scaleX(0.7636);">CEST</span>
<span class="t b" id="h2a" style="left:5.38px;top:22.6px;font-size:13px;color:#ffffff;transform:scaleX(0.9183);">BITMEX:XBTUSD,</span>
<span class="t b" id="h2a2" style="left:111.28px;top:22.6px;font-size:13px;color:#ffffff;transform:scaleX(0.9354);">240</span>
<span class="t" id="h2b" style="left:136.81px;top:22.6px;font-size:13px;color:#e6e8ee;transform:scaleX(0.9904);">12960.0</span>
<span class="t" id="h2c" style="left:199.55px;top:22.6px;font-size:13px;color:#e6e8ee;transform:scaleX(0.9753);">+146.0</span>
<span class="t" id="h2c2" style="left:241.99px;top:22.6px;font-size:13px;color:#e6e8ee;transform:scaleX(0.9456);">(+1.14%)</span>
<span class="t b" id="h2d" style="left:295.93px;top:22.6px;font-size:13px;color:#ffffff;transform:scaleX(0.9743);">O:</span>
<span class="t" id="h2e" style="left:309.61px;top:22.6px;font-size:13px;color:#26a69a;transform:scaleX(0.9904);">12975.0</span>
<span class="t b" id="h2f" style="left:359.63px;top:22.6px;font-size:13px;color:#ffffff;transform:scaleX(0.9896);">H:</span>
<span class="t" id="h2g" style="left:373.62px;top:22.6px;font-size:13px;color:#26a69a;transform:scaleX(0.9817);">12990.5</span>
<span class="t b" id="h2h" style="left:423.74px;top:22.6px;font-size:13px;color:#ffffff;transform:scaleX(0.8513);">L:</span>
<span class="t" id="h2i" style="left:434.41px;top:22.6px;font-size:13px;color:#26a69a;transform:scaleX(0.9904);">12810.0</span>
<span class="t b" id="h2j" style="left:484.89px;top:22.6px;font-size:13px;color:#ffffff;transform:scaleX(0.8206);">C:</span>
<span class="t" id="h2k" style="left:496.72px;top:22.6px;font-size:13px;color:#26a69a;transform:scaleX(0.9838);">12960.0</span>
<span class="t b" id="l10" style="left:14.87px;top:54.3px;font-size:13px;color:#b2b5be;transform:scaleX(0.9302);">Bitcoin</span>
<span class="t b" id="l11" style="left:60.21px;top:54.3px;font-size:13px;color:#b2b5be;transform:scaleX(1.3000);">/</span>
<span class="t b" id="l12" style="left:67.95px;top:54.3px;font-size:13px;color:#b2b5be;transform:scaleX(0.8503);">US</span>
<span class="t b" id="l13" style="left:86.66px;top:54.3px;font-size:13px;color:#b2b5be;transform:scaleX(0.9427);">Dollar</span>
<span class="t b" id="l14" style="left:124.75px;top:54.3px;font-size:13px;color:#b2b5be;transform:scaleX(0.9593);">Perpetual</span>
<span class="t b" id="l15" style="left:184.55px;top:54.3px;font-size:13px;color:#b2b5be;transform:scaleX(0.9590);">Inverse</span>
<span class="t b" id="l16" style="left:231.58px;top:54.3px;font-size:13px;color:#b2b5be;transform:scaleX(0.9274);">Swap</span>
<span class="t b" id="l17" style="left:266.84px;top:54.3px;font-size:13px;color:#b2b5be;transform:scaleX(0.9710);">Contract,</span>
<span class="t b" id="l18" style="left:325.30px;top:54.3px;font-size:13px;color:#b2b5be;transform:scaleX(0.9909);">4Std.,</span>
<span class="t b" id="l19" style="left:362.67px;top:54.3px;font-size:13px;color:#b2b5be;transform:scaleX(0.9353);">BITMEX</span>
<span class="t" id="l2" style="left:15.39px;top:71.4px;font-size:13px;color:#b2b5be;">Vol</span>
<span class="t" id="l3" style="left:14.43px;top:88.4px;font-size:13px;color:#b2b5be;transform:scaleX(0.9741);">EMA</span>
<span class="t" id="p48" style="left:1768.02px;top:42.6px;font-size:12px;color:#b2b5be;transform:scaleX(0.9786);">13600.0</span>
<span class="t" id="p89" style="left:1768.02px;top:83.6px;font-size:12px;color:#b2b5be;transform:scaleX(0.9786);">13400.0</span>
<span class="t" id="p131" style="left:1768.02px;top:125.6px;font-size:12px;color:#b2b5be;transform:scaleX(0.9786);">13200.0</span>
<span class="t" id="p174" style="left:1768.02px;top:168.6px;font-size:12px;color:#b2b5be;transform:scaleX(0.9786);">13000.0</span>
<span class="t" id="p217" style="left:1768.02px;top:211.6px;font-size:12px;color:#b2b5be;transform:scaleX(0.9786);">12800.0</span>
<span class="t" id="p261" style="left:1768.02px;top:255.6px;font-size:12px;color:#b2b5be;transform:scaleX(0.9786);">12600.0</span>
<span class="t" id="p306" style="left:1768.02px;top:300.6px;font-size:12px;color:#b2b5be;transform:scaleX(0.9786);">12400.0</span>
<span class="t" id="p352" style="left:1768.02px;top:346.6px;font-size:12px;color:#b2b5be;transform:scaleX(0.9786);">12200.0</span>
<span class="t" id="p398" style="left:1768.02px;top:392.6px;font-size:12px;color:#b2b5be;transform:scaleX(0.9786);">12000.0</span>
<span class="t" id="p445" style="left:1768.00px;top:439.6px;font-size:12px;color:#b2b5be;transform:scaleX(1.0024);">11800.0</span>
<span class="t" id="p493" style="left:1768.00px;top:487.6px;font-size:12px;color:#b2b5be;transform:scaleX(1.0024);">11600.0</span>
<span class="t" id="p541" style="left:1768.00px;top:535.6px;font-size:12px;color:#b2b5be;transform:scaleX(1.0024);">11400.0</span>
<span class="t" id="p618" style="left:1768.00px;top:612.6px;font-size:12px;color:#b2b5be;transform:scaleX(1.0024);">11090.0</span>
<span class="t" id="p649" style="left:1768.02px;top:643.6px;font-size:12px;color:#b2b5be;transform:scaleX(0.9786);">10970.0</span>
<span class="t" id="p679" style="left:1768.02px;top:673.6px;font-size:12px;color:#b2b5be;transform:scaleX(0.9786);">10850.0</span>
<span class="t" id="p712" style="left:1768.02px;top:706.6px;font-size:12px;color:#b2b5be;transform:scaleX(0.9786);">10725.0</span>
<span class="t" id="p743" style="left:1768.02px;top:737.6px;font-size:12px;color:#b2b5be;transform:scaleX(0.9786);">10605.0</span>
<span class="t" id="p807" style="left:1768.02px;top:801.6px;font-size:12px;color:#b2b5be;transform:scaleX(0.9786);">10365.0</span>
<span class="t" id="t3" style="left:34.51px;top:844.1px;font-size:12px;color:#b2b5be;transform:scaleX(0.9300);">7</span>
<span class="t" id="t15" style="left:151.51px;top:844.1px;font-size:12px;color:#b2b5be;transform:scaleX(0.9300);">9</span>
<span class="t" id="t24" style="left:228.26px;top:844.1px;font-size:12px;color:#b2b5be;transform:scaleX(0.9300);">14:00</span>
<span class="t" id="t33" style="left:322.99px;top:844.1px;font-size:12px;color:#b2b5be;transform:scaleX(0.9300);">12</span>
<span class="t" id="t45" style="left:439.99px;top:844.1px;font-size:12px;color:#b2b5be;transform:scaleX(0.9300);">14</span>
<span class="t" id="t57" style="left:556.99px;top:844.1px;font-size:12px;color:#b2b5be;transform:scaleX(0.9300);">16</span>
<span class="t" id="t66" style="left:636.26px;top:844.1px;font-size:12px;color:#b2b5be;transform:scaleX(0.9300);">14:00</span>
<span class="t" id="t75" style="left:731.99px;top:844.1px;font-size:12px;color:#b2b5be;transform:scaleX(0.9300);">19</span>
<span class="t" id="t87" style="left:848.25px;top:844.1px;font-size:12px;color:#b2b5be;transform:scaleX(0.9300);">21</span>
<span class="t" id="t99" style="left:965.25px;top:844.1px;font-size:12px;color:#b2b5be;transform:scaleX(0.9300);">23</span>
<span class="t" id="t108" style="left:1045.26px;top:844.1px;font-size:12px;color:#b2b5be;transform:scaleX(0.9300);">14:00</span>
<span class="t" id="t117" style="left:1140.25px;top:844.1px;font-size:12px;color:#b2b5be;transform:scaleX(0.9300);">26</span>
<span class="t" id="t129" style="left:1257.25px;top:844.1px;font-size:12px;color:#b2b5be;transform:scaleX(0.9300);">28</span>
<span class="t" id="t141" style="left:1374.21px;top:844.1px;font-size:12px;color:#b2b5be;transform:scaleX(0.9300);">30</span>
<span class="t b" id="t153" style="left:1485.65px;top:844.1px;font-size:12px;color:#b2b5be;transform:scaleX(0.9300);">Nov</span>
<span class="t" id="t165" style="left:1610.47px;top:844.1px;font-size:12px;color:#b2b5be;transform:scaleX(0.9300);">3</span>
<span class="t" id="t177" style="left:1727.44px;top:844.1px;font-size:12px;color:#b2b5be;transform:scaleX(0.9300);">5</span>
<span class="t" id="f1" style="left:906.92px;top:270.9px;font-size:12px;color:#81c784;-webkit-text-stroke:0.35px currentColor;transform:scaleX(0.9954);">0.382(12499.0)</span>
<span class="t" id="f2" style="left:906.92px;top:374.8px;font-size:12px;color:#ff9800;-webkit-text-stroke:0.35px currentColor;transform:scaleX(0.9916);">0.618(12042.0)</span>
<span class="t" id="f3" style="left:906.91px;top:389.0px;font-size:12px;color:#ffeb3b;-webkit-text-stroke:0.35px currentColor;transform:scaleX(1.0204);">0.65(11980.0)</span>
<span class="t" id="tv" style="left:33.95px;top:874.9px;font-size:13px;color:#e6e8ee;transform:scaleX(0.9888);">TradingView</span>
<svg width="1828" height="900" viewBox="0 0 1828 900" style="position:absolute;left:0;top:0">
<g shape-rendering="crispEdges">
<rect x="1759" y="174" width="60" height="19" fill="#ef5350"/>
<rect x="1759" y="183" width="4" height="1" fill="#ffffff"/>
<rect x="1777" y="194" width="42" height="19" fill="#ef5350"/>
<rect x="1759" y="571" width="60" height="19" fill="#00bcd4"/>
<rect x="1759" y="580" width="4" height="1" fill="#131722"/>
<rect x="1759" y="764" width="62" height="19" fill="#ef5350"/>
<rect x="1759" y="773" width="4" height="1" fill="#ffffff"/>
</g>
<rect x="1774.5" y="51.5" width="31" height="18" rx="3" fill="#131722" stroke="#363a45" stroke-width="1"/>
</svg>
<span class="t b" id="pl" style="left:1768.11px;top:177.7px;font-size:12px;color:#ffffff;transform:scaleX(0.9811);">12960.0</span>
<span class="t b" id="pc" style="left:1780.59px;top:197.8px;font-size:12px;color:#ffffff;transform:scaleX(0.9860);">36:24</span>
<span class="t" id="pe" style="left:1768.00px;top:574.6px;font-size:12px;color:#131722;transform:scaleX(1.0024);">11244.5</span>
<span class="t b" id="pv" style="left:1768.11px;top:767.6px;font-size:12px;color:#ffffff;transform:scaleX(0.9671);">297.43M</span>
<span class="t" id="usd" style="left:1778.96px;top:52.7px;font-size:12px;color:#b2b5be;transform:scaleX(0.8417);">USD</span>
</body></html>
